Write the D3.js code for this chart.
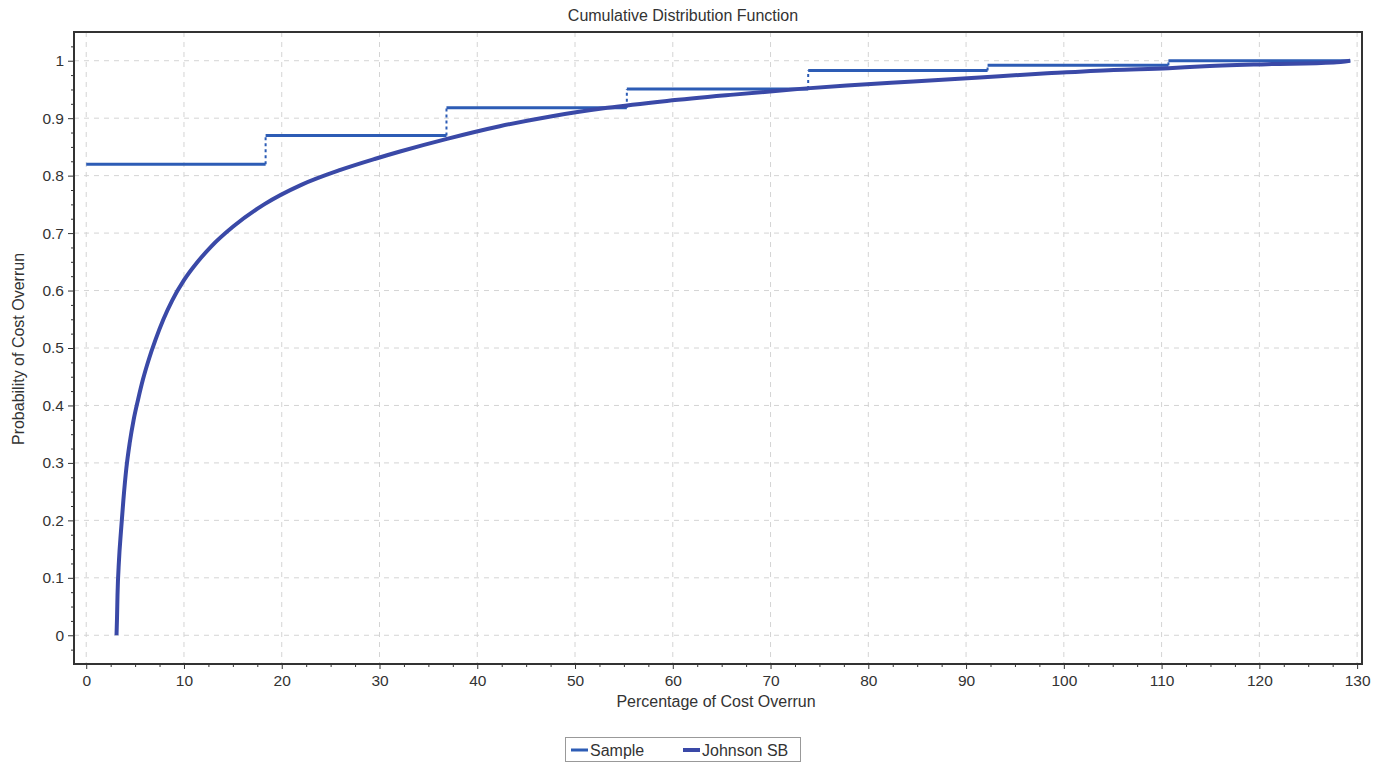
<!DOCTYPE html>
<meta charset="utf-8">
<title>Cumulative Distribution Function</title>
<style>
body { margin: 0; background: #fff; }
text { font-family: "Liberation Sans", Arial, sans-serif; fill: #333; }
.grid line { stroke: #d4d4d4; stroke-width: 1; stroke-dasharray: 5,5; }
</style>
<body>
<script src="https://cdnjs.cloudflare.com/ajax/libs/d3/7.8.5/d3.min.js"></script>
<script>

// sample (empirical) CDF: step edges and level between them
var sampleEdges = [0, 18.35, 36.85, 55.3, 73.85, 92.2, 110.7, 129.3];
var sampleLevels = [0.82, 0.87, 0.918, 0.951, 0.983, 0.992, 1.0];

// fitted Johnson SB CDF
var johnsonX = [3.1, 3.15, 3.2, 3.35, 3.55, 3.8, 4.1, 4.45, 4.85, 5.3, 5.8, 6.4, 7.1,
  7.9, 8.8, 10, 11.4, 12.8, 15, 18.2, 22, 26, 29.5, 32.1, 36.9, 42.3, 47.5, 53.3,
  59.4, 66.2, 73, 77.8, 84.6, 91.4, 98.3, 105.1, 110.7, 113.9, 120.8, 127.6, 129.3];
var johnsonP = [0, 0.03, 0.07, 0.13, 0.18, 0.235, 0.29, 0.335, 0.375, 0.41, 0.445,
  0.48, 0.515, 0.55, 0.583, 0.618, 0.65, 0.677, 0.711, 0.75, 0.784, 0.81, 0.829,
  0.842, 0.864, 0.886, 0.903, 0.918, 0.93, 0.941, 0.951, 0.957, 0.964, 0.971, 0.978,
  0.984, 0.987, 0.99, 0.994, 0.997, 1.0];

var xTicks = d3.range(0, 131, 10);
var yTicks = d3.range(0, 11).map(function(d) { return d / 10; });

var width = 1383, height = 763;
var sampleColor = "#2d5cb5", johnsonColor = "#3a49a7";

var svg = d3.select("body").append("svg")
    .attr("width", width)
    .attr("height", height);

var x = d3.scaleLinear().domain([-1.25, 130.5]).range([74, 1362]);
var y = d3.scaleLinear().domain([-0.05, 1.05]).range([664, 32]);

// grid
var grid = svg.append("g").attr("class", "grid");
grid.selectAll(".gx").data(xTicks).enter().append("line")
    .attr("x1", function(d) { return x(d); })
    .attr("x2", function(d) { return x(d); })
    .attr("y1", y.range()[1]).attr("y2", y.range()[0]);
grid.selectAll(".gy").data(yTicks).enter().append("line")
    .attr("y1", function(d) { return y(d); })
    .attr("y2", function(d) { return y(d); })
    .attr("x1", x.range()[0]).attr("x2", x.range()[1]);

// axes
var xAxis = svg.append("g")
    .attr("transform", "translate(0," + y.range()[0] + ")")
    .call(d3.axisBottom(x).tickValues(xTicks).tickSize(5).tickSizeOuter(0).tickPadding(6));
var xMinor = svg.append("g")
    .attr("transform", "translate(0," + y.range()[0] + ")")
    .call(d3.axisBottom(x).tickValues(d3.range(0, 131, 2.5).filter(function(d) { return d % 10; }))
      .tickSize(3).tickSizeOuter(0).tickFormat(""));
var yAxis = svg.append("g")
    .attr("transform", "translate(" + x.range()[0] + ",0)")
    .call(d3.axisLeft(y).tickValues(yTicks).tickFormat(d3.format("~g")).tickSize(6).tickSizeOuter(0).tickPadding(4));
var yMinor = svg.append("g")
    .attr("transform", "translate(" + x.range()[0] + ",0)")
    .call(d3.axisLeft(y).tickValues(d3.range(-0.025, 1.04, 0.025).filter(function(d) {
        return Math.abs(d * 10 - Math.round(d * 10)) > 0.01; }))
      .tickSize(3).tickSizeOuter(0).tickFormat(""));

[xAxis, xMinor, yAxis, yMinor].forEach(function(a) {
  a.select(".domain").remove();
  a.selectAll(".tick line").attr("stroke", "#333");
  a.selectAll("text").style("font-size", "15.5px").attr("fill", "#333");
});

// frame
svg.append("rect")
    .attr("x", x.range()[0]).attr("y", y.range()[1])
    .attr("width", x.range()[1] - x.range()[0])
    .attr("height", y.range()[0] - y.range()[1])
    .attr("fill", "none").attr("stroke", "#333").attr("stroke-width", 2);

// sample step function
var steps = sampleLevels.map(function(v, i) {
  return { x0: sampleEdges[i], x1: sampleEdges[i + 1], v: v };
});
svg.append("g").selectAll("line").data(steps).enter().append("line")
    .attr("x1", function(d) { return x(d.x0); })
    .attr("x2", function(d) { return x(d.x1); })
    .attr("y1", function(d) { return y(d.v); })
    .attr("y2", function(d) { return y(d.v); })
    .attr("stroke", sampleColor).attr("stroke-width", 3);
svg.append("g").selectAll("line").data(steps.slice(1)).enter().append("line")
    .attr("x1", function(d) { return x(d.x0); })
    .attr("x2", function(d) { return x(d.x0); })
    .attr("y1", function(d, i) { return y(steps[i].v); })
    .attr("y2", function(d) { return y(d.v); })
    .attr("stroke", sampleColor).attr("stroke-width", 2)
    .attr("stroke-dasharray", "3,3");

// Johnson SB curve
var line = d3.line()
    .x(function(d) { return x(d[0]); })
    .y(function(d) { return y(d[1]); })
    .curve(d3.curveMonotoneX);
svg.append("path")
    .datum(d3.zip(johnsonX, johnsonP))
    .attr("d", line)
    .attr("fill", "none")
    .attr("stroke", johnsonColor)
    .attr("stroke-width", 4)
    .attr("stroke-linejoin", "round");

// titles
svg.append("text")
    .attr("x", 683).attr("y", 21)
    .attr("text-anchor", "middle")
    .style("font-size", "16px")
    .text("Cumulative Distribution Function");
svg.append("text")
    .attr("x", 716).attr("y", 707)
    .attr("text-anchor", "middle")
    .style("font-size", "16px")
    .text("Percentage of Cost Overrun");
svg.append("text")
    .attr("transform", "translate(24,349) rotate(-90)")
    .attr("text-anchor", "middle")
    .style("font-size", "16px")
    .text("Probability of Cost Overrun");

// legend
var legend = svg.append("g");
legend.append("rect")
    .attr("x", 565.5).attr("y", 737.5).attr("width", 235).attr("height", 24)
    .attr("fill", "#fff").attr("stroke", "#999");
var items = [
  { name: "Sample", color: sampleColor, w: 3, x: 571 },
  { name: "Johnson SB", color: johnsonColor, w: 4, x: 683 }
];
var li = legend.selectAll(".li").data(items).enter().append("g")
    .attr("transform", function(d) { return "translate(" + d.x + ",750)"; });
li.append("line")
    .attr("x1", 0).attr("x2", 17)
    .attr("stroke", function(d) { return d.color; })
    .attr("stroke-width", function(d) { return d.w; });
li.append("text")
    .attr("x", 19).attr("dy", "0.36em")
    .style("font-size", "16px")
    .text(function(d) { return d.name; });

</script>
</body>
